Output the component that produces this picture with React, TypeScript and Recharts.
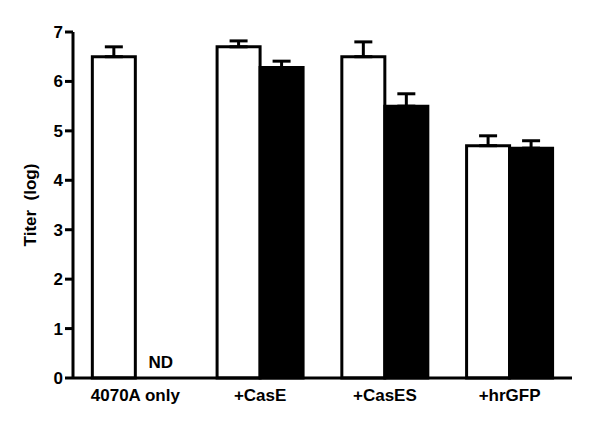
import { BarChart, Bar, XAxis, YAxis, ErrorBar, LabelList, Label } from 'recharts'

const groups = ['4070A only', '+CasE', '+CasES', '+hrGFP']
const openTiter = [6.5, 6.7, 6.5, 4.7]
const openErr = [0.2, 0.12, 0.3, 0.2]
const filledTiter = [null, 6.28, 5.5, 4.65]
const filledErr = [null, 0.13, 0.25, 0.15]
// marks a missing filled bar (not determined)
const notes = ['ND', '', '', '']
const yTicks = [0, 1, 2, 3, 4, 5, 6, 7]

const data = groups.map((name, i) => ({
  name,
  open: openTiter[i],
  openErr: [0, openErr[i]],
  filled: filledTiter[i],
  filledErr: filledErr[i] == null ? null : [0, filledErr[i]],
}))

const font = '"Liberation Sans", Arial, sans-serif'
const tickStyle = { fontSize: 17, fontWeight: 'bold', fill: '#000', fontFamily: font }

// drawn next to the open bar, where the filled bar would sit
const NoteLabel = (props: any) => {
  const note = notes[props.index]
  if (!note) return null
  const vb = props.viewBox || {}
  return (
    <text
      x={vb.x + vb.width * 1.5 + 4}
      y={vb.y + vb.height - 10}
      textAnchor="middle"
      style={tickStyle}
    >
      {note}
    </text>
  )
}

export default function App() {
  return (
    <div style={{ position: 'absolute', left: 0, top: 0, background: '#fff' }}>
      <BarChart
        width={600}
        height={423}
        data={data}
        margin={{ top: 32, right: 28, bottom: 0, left: 0 }}
        barCategoryGap="15.5%"
        barGap={0}
      >
        <XAxis
          dataKey="name"
          height={45}
          axisLine={{ stroke: '#000', strokeWidth: 3 }}
          tickLine={false}
          tickSize={8}
          tickMargin={3}
          tick={tickStyle}
        />
        <YAxis
          width={73}
          domain={[0, 7]}
          ticks={yTicks}
          interval={0}
          axisLine={{ stroke: '#000', strokeWidth: 3 }}
          tickLine={{ stroke: '#000', strokeWidth: 3 }}
          tickSize={8}
          tickMargin={2}
          tick={tickStyle}
        >
          <Label
            value={'Titer\u00a0 (log)'}
            angle={-90}
            position="center"
            dx={-7}
            style={tickStyle}
          />
        </YAxis>
        <Bar dataKey="open" fill="#fff" stroke="#000" strokeWidth={3} isAnimationActive={false}>
          <ErrorBar dataKey="openErr" stroke="#000" strokeWidth={3} width={9} direction="y" />
          <LabelList dataKey="open" content={NoteLabel} />
        </Bar>
        <Bar dataKey="filled" fill="#000" stroke="#000" strokeWidth={3} isAnimationActive={false}>
          <ErrorBar dataKey="filledErr" stroke="#000" strokeWidth={3} width={9} direction="y" />
        </Bar>
      </BarChart>
    </div>
  )
}
